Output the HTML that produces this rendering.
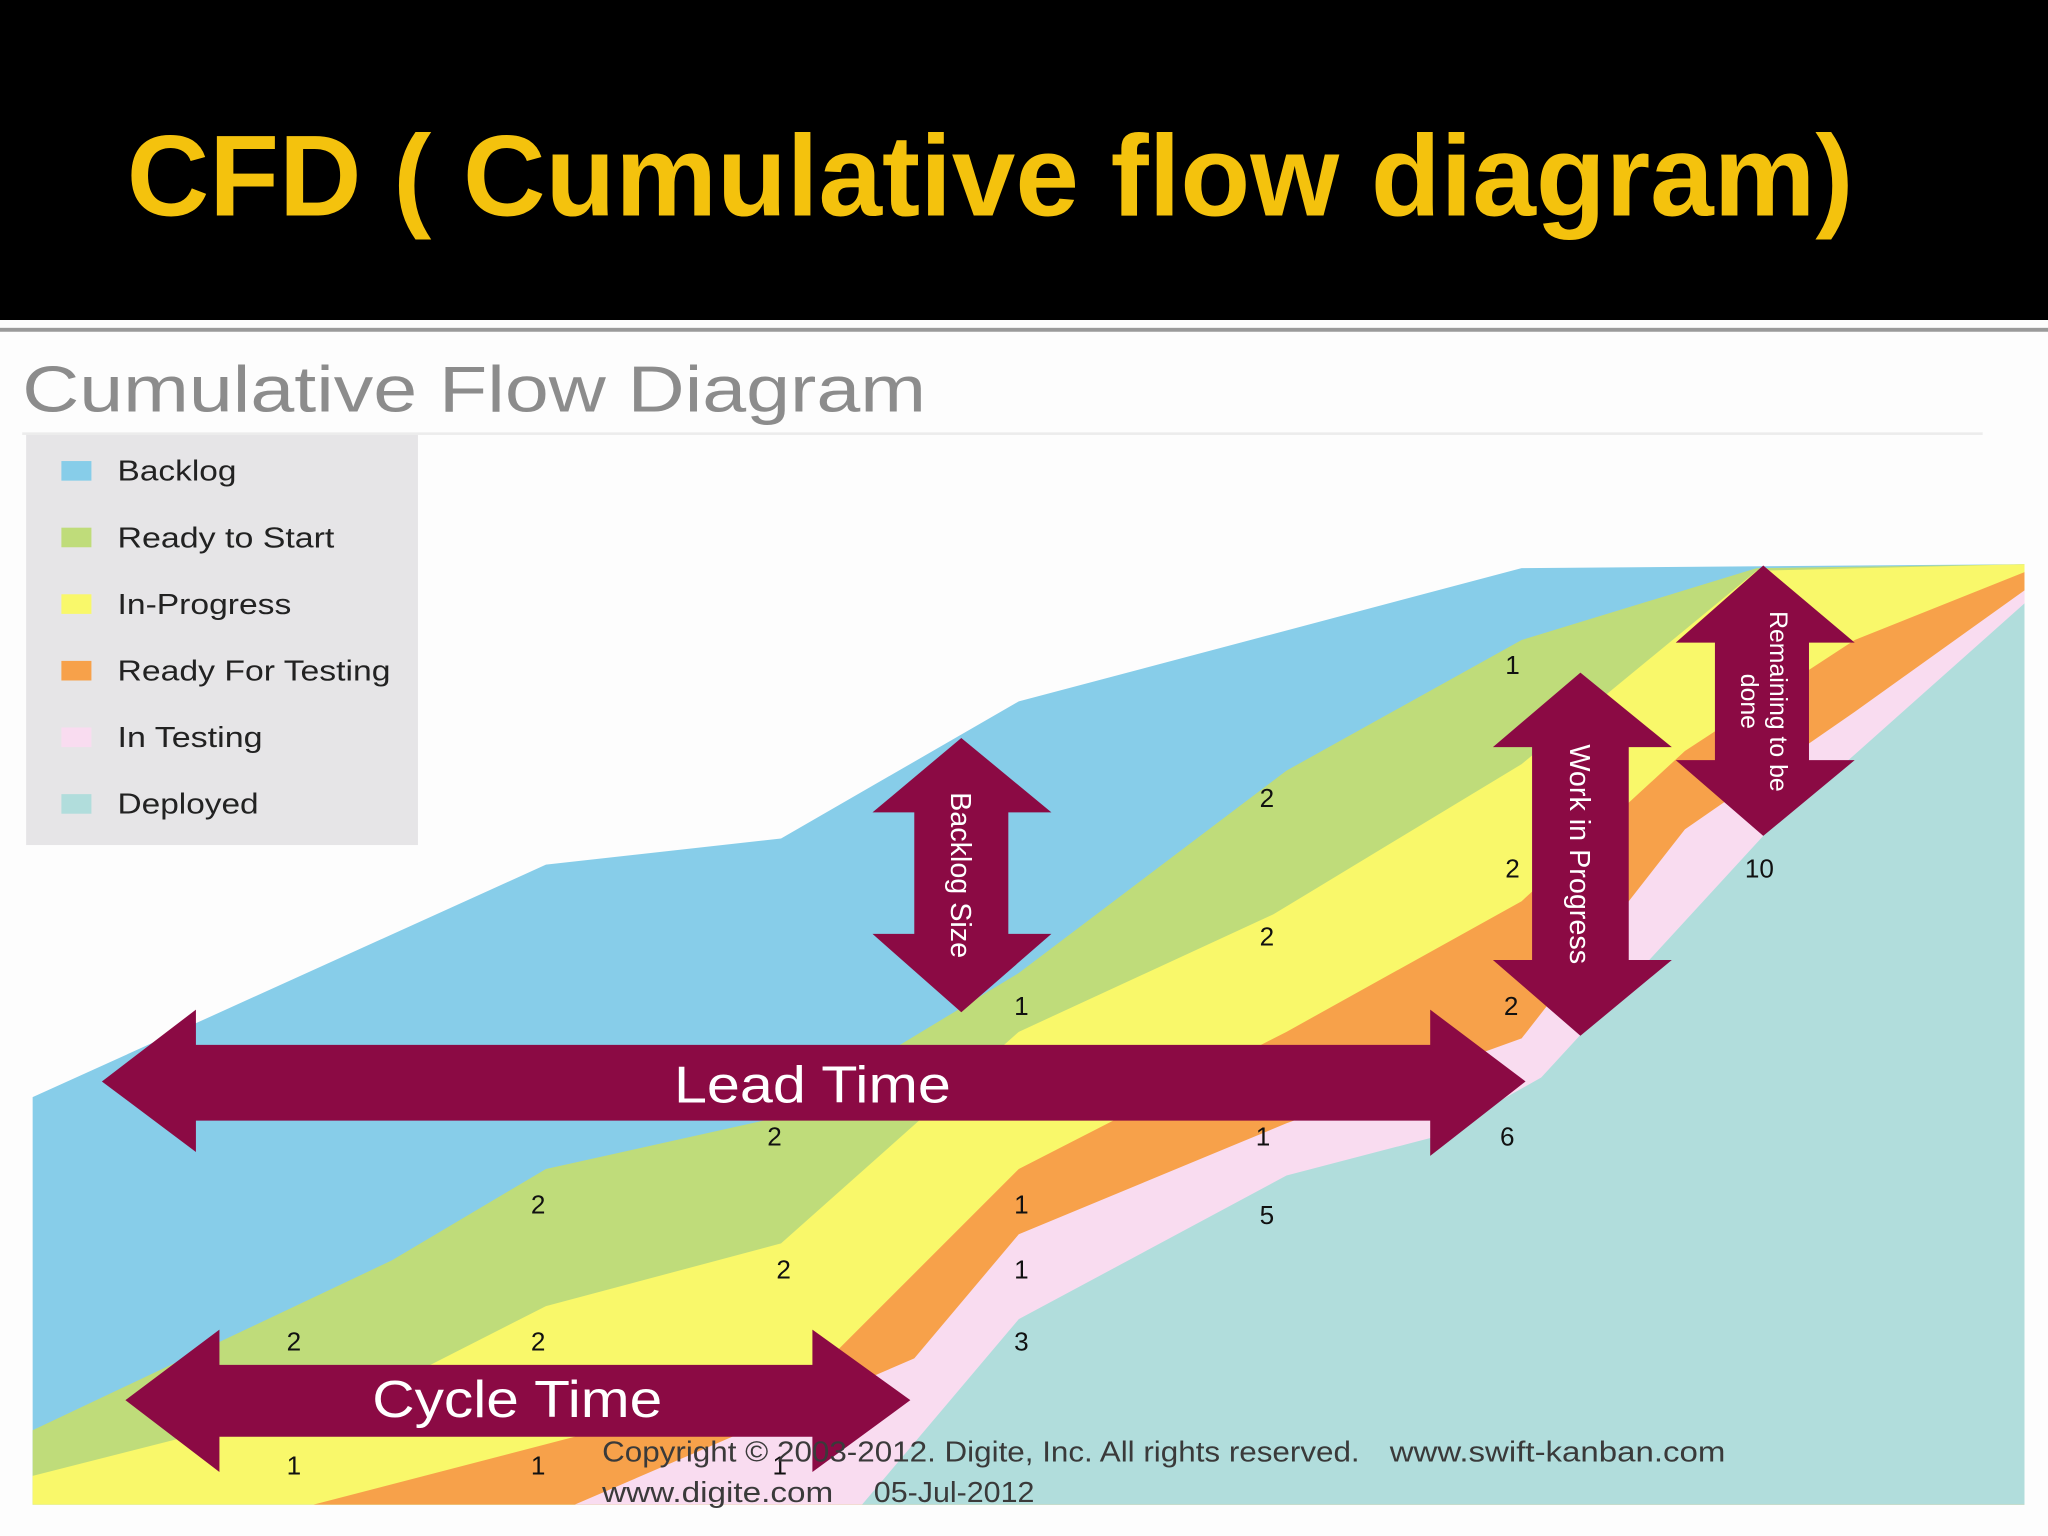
<!DOCTYPE html>
<html><head><meta charset="utf-8"><style>
html,body{margin:0;padding:0;background:#fdfdfd;}
svg{display:block;width:2048px;height:1536px;}
</style></head><body>
<svg viewBox="0 0 1568 1176" preserveAspectRatio="none" xmlns="http://www.w3.org/2000/svg">
<rect x="0" y="0" width="1568" height="1176" fill="#fdfdfd"/>
<rect x="0" y="0" width="1568" height="245" fill="#000"/>
<rect x="0" y="251" width="1568" height="3" fill="#9a9a9a"/>
<text x="97" y="165" font-family="Liberation Sans, sans-serif" font-weight="bold" font-size="88" fill="#f4c20d" textLength="1322" lengthAdjust="spacingAndGlyphs">CFD ( Cumulative flow diagram)</text>
<text x="17" y="315" font-family="Liberation Sans, sans-serif" font-size="50" fill="#8c8c8c" textLength="692" lengthAdjust="spacingAndGlyphs">Cumulative Flow Diagram</text>
<rect x="17" y="331" width="1501" height="2" fill="#ececec"/>
<polygon fill="#87cde9" points="25,840 418,662 598,642 780,537 1165,435 1550,432 1550,1152 25,1152"/>
<polygon fill="#bfdc7a" points="25,1095 300,965 418,895 598,855 780,745 985,590 1165,490 1345,435 1550,432 1550,1152 25,1152"/>
<polygon fill="#f9f86a" points="25,1130 300,1060 418,1000 598,952 780,790 975,700 1165,585 1345,437 1550,432 1550,1152 25,1152"/>
<polygon fill="#f7a14a" points="240,1152 440,1100 630,1045 780,895 985,790 1165,690 1290,575 1420,490 1550,438 1550,1152"/>
<polygon fill="#f9dcf0" points="440,1152 700,1040 780,945 985,860 1165,795 1290,635 1420,545 1550,452 1550,1152"/>
<polygon fill="#b1dddc" points="660,1152 780,1010 985,900 1100,870 1180,825 1350,640 1550,462 1550,1152"/>
<rect x="20" y="333" width="300" height="314" fill="#e6e5e7"/>
<g font-family="Liberation Sans, sans-serif" font-size="22" fill="#222">
<rect x="47" y="353" width="23" height="15" fill="#87cde9"/><text x="90" y="368" textLength="91" lengthAdjust="spacingAndGlyphs">Backlog</text>
<rect x="47" y="404" width="23" height="15" fill="#bfdc7a"/><text x="90" y="419" textLength="166" lengthAdjust="spacingAndGlyphs">Ready to Start</text>
<rect x="47" y="455" width="23" height="15" fill="#f9f86a"/><text x="90" y="470" textLength="133" lengthAdjust="spacingAndGlyphs">In-Progress</text>
<rect x="47" y="506" width="23" height="15" fill="#f7a14a"/><text x="90" y="521" textLength="209" lengthAdjust="spacingAndGlyphs">Ready For Testing</text>
<rect x="47" y="557" width="23" height="15" fill="#f9dcf0"/><text x="90" y="572" textLength="111" lengthAdjust="spacingAndGlyphs">In Testing</text>
<rect x="47" y="608" width="23" height="15" fill="#b1dddc"/><text x="90" y="623" textLength="108" lengthAdjust="spacingAndGlyphs">Deployed</text>
</g>
<g fill="#8b0a44">
<polygon points="78,828 150,773 150,800 1095,800 1095,773 1168,828 1095,885 1095,858 150,858 150,882"/>
<polygon points="96,1072 168,1018 168,1045 622,1045 622,1018 697,1072 622,1127 622,1100 168,1100 168,1127"/>
<polygon points="736,565 805,622 772,622 772,715 805,715 736,775 668,715 700,715 700,622 668,622"/>
<polygon points="1210,515 1280,572 1247,572 1247,735 1280,735 1210,793 1143,735 1173,735 1173,572 1143,572"/>
<polygon points="1350,433 1420,492 1385,492 1385,582 1420,582 1350,640 1283,582 1313,582 1313,492 1283,492"/>
</g>
<g font-family="Liberation Sans, sans-serif" fill="#fff">
<text x="516" y="844" font-size="40" textLength="212" lengthAdjust="spacingAndGlyphs">Lead Time</text>
<text x="285" y="1085" font-size="40" textLength="222" lengthAdjust="spacingAndGlyphs">Cycle Time</text>
<text transform="translate(728,670) rotate(90)" font-size="22" text-anchor="middle">Backlog Size</text>
<text transform="translate(1202,654) rotate(90)" font-size="22" text-anchor="middle">Work in Progress</text>
<text transform="translate(1355,537) rotate(90)" font-size="19" text-anchor="middle">Remaining to be</text>
<text transform="translate(1333,537) rotate(90)" font-size="19" text-anchor="middle">done</text>
</g>
<g font-family="Liberation Sans, sans-serif" font-size="20" fill="#111" text-anchor="middle">
<text x="1158" y="516">1</text><text x="970" y="618">2</text><text x="1158" y="672">2</text><text x="1347" y="672">10</text>
<text x="970" y="724">2</text><text x="782" y="777">1</text><text x="1157" y="777">2</text>
<text x="593" y="877">2</text><text x="967" y="877">1</text><text x="1154" y="877">6</text>
<text x="412" y="929">2</text><text x="782" y="929">1</text><text x="970" y="937">5</text>
<text x="600" y="979">2</text><text x="782" y="979">1</text>
<text x="225" y="1034">2</text><text x="412" y="1034">2</text><text x="782" y="1034">3</text>
<text x="225" y="1129">1</text><text x="412" y="1129">1</text><text x="597" y="1129">1</text>
</g>
<g font-family="Liberation Sans Narrow, Liberation Sans, sans-serif" font-size="22" fill="#3a3a3a">
<text x="461" y="1119" textLength="580" lengthAdjust="spacingAndGlyphs">Copyright © 2003-2012. Digite, Inc. All rights reserved.</text>
<text x="1064" y="1119" textLength="257" lengthAdjust="spacingAndGlyphs">www.swift-kanban.com</text>
<text x="461" y="1150" textLength="177" lengthAdjust="spacingAndGlyphs">www.digite.com</text>
<text x="669" y="1150" textLength="123" lengthAdjust="spacingAndGlyphs">05-Jul-2012</text>
</g>
</svg>
</body></html>
